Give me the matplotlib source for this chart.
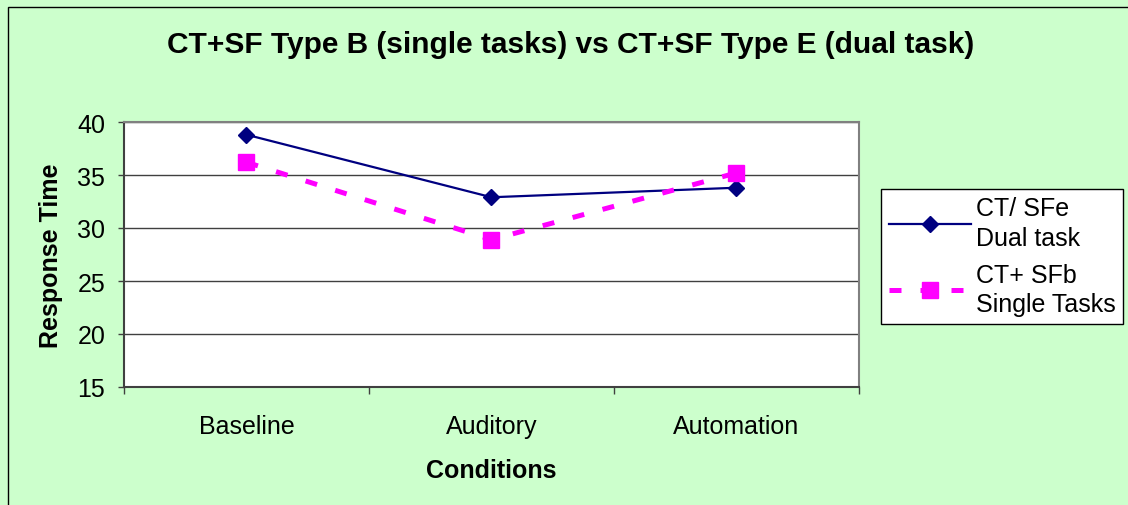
import matplotlib
matplotlib.use("Agg")
import matplotlib.pyplot as plt
from matplotlib.patches import Rectangle

categories = ["Baseline", "Auditory", "Automation"]
dual_task = [38.8, 32.9, 33.8]
single_tasks = [36.2, 28.9, 35.2]
yticks = [15, 20, 25, 30, 35, 40]

plt.rcParams['font.family'] = ['Liberation Sans', 'DejaVu Sans']

W, H = 1128, 506
fig = plt.figure(figsize=(W / 100, H / 100), dpi=100)
fig.patch.set_facecolor('#CCFFCC')
fig.patches.append(Rectangle((8 / W, -0.01), 1.02, 1 - 8 / H + 0.01, transform=fig.transFigure,
                             fill=False, edgecolor='black', linewidth=1.0))

ax = fig.add_axes([124 / W, 1 - 388 / H, (859 - 124) / W, (388 - 123) / H])
ax.set_facecolor('white')
x = list(range(len(categories)))
ax.plot(x, dual_task, color='#000080', linewidth=1.6, marker='D', markersize=8,
        label='CT/ SFe\nDual task', zorder=3)
ax.plot(x, single_tasks, color='#FF00FF', linewidth=3.6, linestyle=(0, (2.4, 3.8)),
        dash_capstyle='butt', marker='s', markersize=11,
        label='CT+ SFb\nSingle Tasks', zorder=3)

ax.set_xlim(-0.5, 2.5)
ax.set_ylim(15, 40)
ax.set_yticks(yticks)
ax.set_xticks(x)
ax.set_xticklabels(categories, fontsize=18)
ax.tick_params(axis='x', length=0, pad=19.5)
ax.set_xticks([-0.5, 0.5, 1.5, 2.5], minor=True)
ax.tick_params(axis='x', which='minor', length=5, width=1, color='#404040')
ax.tick_params(axis='y', labelsize=18, length=4.5, width=1, color='#404040', pad=9)
ax.grid(axis='y', color='#404040', linewidth=1.0)
ax.set_axisbelow(True)
for s in ['top', 'right']:
    ax.spines[s].set_color('#808080')
    ax.spines[s].set_linewidth(1.5)
for s in ['left', 'bottom']:
    ax.spines[s].set_color('#404040')
    ax.spines[s].set_linewidth(1.5)

ax.set_ylabel('Response Time', fontsize=18, fontweight='bold', labelpad=10)
ax.set_xlabel('Conditions', fontsize=18, fontweight='bold', labelpad=14)
fig.text(571 / W, 1 - 45 / H, 'CT+SF Type B (single tasks) vs CT+SF Type E (dual task)',
         ha='center', va='center', fontsize=21.5, fontweight='bold')

leg = fig.legend(loc='upper left', bbox_to_anchor=(881 / W, 1 - 190 / H), fontsize=18,
                 frameon=True, fancybox=False, edgecolor='black', facecolor='white',
                 framealpha=1, handlelength=3.3, borderpad=0.3, labelspacing=0.5,
                 handletextpad=0.2, borderaxespad=0)
leg.get_frame().set_linewidth(1.0)
for t in leg.get_texts():
    t.set_linespacing(1.3)

fig.savefig('out.png', dpi=100, facecolor=fig.get_facecolor())
